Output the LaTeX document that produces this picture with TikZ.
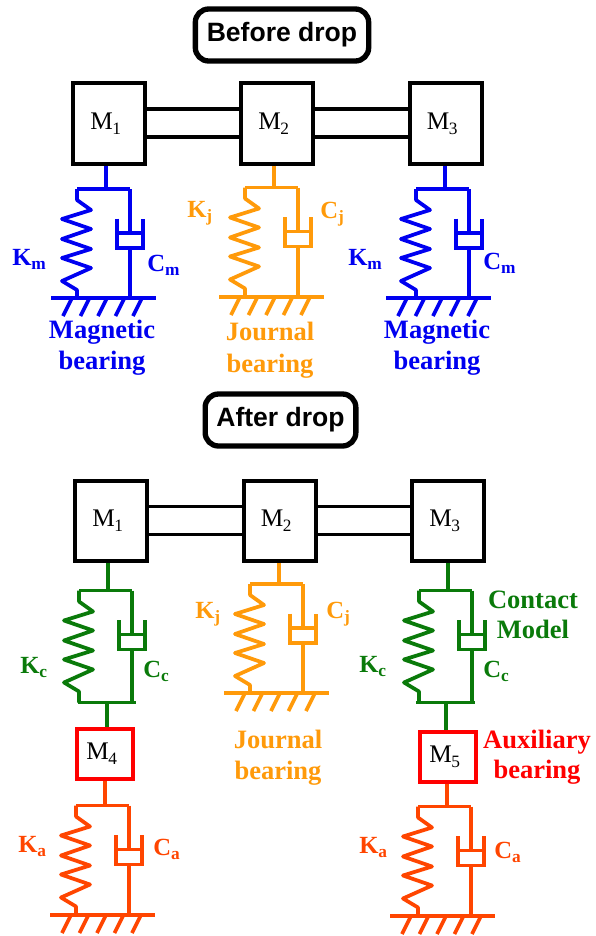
\documentclass[tikz,border=0pt]{standalone}
\usepackage{fontspec}
\setmainfont{Liberation Serif}
\newfontfamily\headfont{Liberation Sans}
\definecolor{cblue}{HTML}{0000F0}
\definecolor{corange}{HTML}{FF9A0A}
\definecolor{cgreen}{HTML}{0A7A0A}
\definecolor{cdeep}{HTML}{FF4500}
\definecolor{cred}{HTML}{FF0000}
\newcommand{\lowtxt}[1]{\raisebox{-.2em}{\fontsize{13}{14}\selectfont #1}}
\newcommand{\massname}[1]{M\kern-.5pt\lowtxt{#1}\hspace*{5pt}}
\newcommand{\lowbold}[1]{\raisebox{-.2em}{\fontsize{13}{13}\selectfont\bfseries #1}}
% name, colour, x, y, end of frame below the bar
\newcommand{\frameunit}[5]{%
  \begin{scope}[shift={(#3,#4)},#2,unitline]
    \coordinate (#1 top) at (0,0);
    \draw (-29,0) -- (24,0);
    \draw[line join=round] (-29,0) -- (-29,11) -- (-15,21) -- (-44,30) -- (-15,40) -- (-44,50) -- (-15,60) -- (-44,69) -- (-15,79) -- (-44,92) -- (-29,101) -- (-29,#5);
    \draw (24,0) -- (24,44);
    \draw (11,29.5) -- (11,59) -- (37,59) -- (37,29.5);
    \draw (11,44) -- (37,44);
    \draw (24,59) -- (24,#5);
    \coordinate (#1 end) at (0,#5);
  \end{scope}}
\newcommand{\groundunit}[4]{%
  \begin{scope}[shift={(#3,#4)},#2,unitline]
    \coordinate (#1 ground) at (0,0);
    \draw (-55,0) -- (50,0);
    \foreach \hx in {-34,-16.5,1,18.5,36}
      \draw (\hx,0) -- (\hx-9,18);
  \end{scope}}
\tikzset{
  unitline/.style={line width=2.8pt,line cap=butt},
  massbox/.style={draw=black,line width=3pt,inner sep=0pt,font=\fontsize{19}{19}\selectfont,text=black},
  linkline/.style={draw=black,line width=2.5pt},
  headbox/.style={draw=black,line width=4pt,rounded corners=10pt,inner sep=0pt,font=\headfont\bfseries\fontsize{19.9}{20}\selectfont,minimum width=130pt,minimum height=39pt},
  springlabel/.style={anchor=base west,inner sep=0pt,font=\bfseries\fontsize{18.5}{19}\selectfont},
  bearinglabel/.style={anchor=base,inner sep=0pt,font=\bfseries\fontsize{19.9}{20}\selectfont},
}
\begin{document}
\begin{tikzpicture}[x=0.75pt,y=-0.75pt]
\useasboundingbox (0,0) rectangle (596,936);
% titles
\node[headbox] (before) at (282,35) {\raisebox{-.7pt}{Before drop}};
\node[headbox,minimum width=113pt] (after) at (280.5,420) {\raisebox{-.7pt}{After drop}};
% upper masses
\node[massbox,minimum width=54pt,minimum height=60.5pt] (ma) at (109,123.5) {\massname{1}};
\node[massbox,minimum width=54pt,minimum height=60.5pt] (mb) at (277,123.5) {\massname{2}};
\node[massbox,minimum width=54pt,minimum height=60.5pt] (mc) at (445.5,123.5) {\massname{3}};
\draw[linkline] ([yshift=11pt]ma.east) -- ([yshift=11pt]mb.west);
\draw[linkline] ([yshift=-10pt]ma.east) -- ([yshift=-10pt]mb.west);
\draw[linkline] ([yshift=11pt]mb.east) -- ([yshift=11pt]mc.west);
\draw[linkline] ([yshift=-10pt]mb.east) -- ([yshift=-10pt]mc.west);
% upper units
\frameunit{ua}{cblue}{106}{189}{109}
\groundunit{ua}{cblue}{106}{298}
\frameunit{ub}{corange}{274}{187.5}{109}
\groundunit{ub}{corange}{274}{297}
\frameunit{uc}{cblue}{445}{189}{109}
\groundunit{uc}{cblue}{441}{298}
\draw[cblue,unitline] (ua top |- ma.south) -- (ua top);
\draw[corange,unitline] (ub top |- mb.south) -- (ub top);
\draw[cblue,unitline] (uc top |- mc.south) -- (uc top);
% upper labels
\node[springlabel,cblue] (t1) at (12,265) {K\lowbold{m}};
\node[springlabel,cblue] (t2) at (147,271) {C\lowbold{m}};
\node[springlabel,corange] (t3) at (187,217) {K\lowbold{j}};
\node[springlabel,corange] (t4) at (320,218) {C\lowbold{j}};
\node[springlabel,cblue] (t5) at (348,265) {K\lowbold{m}};
\node[springlabel,cblue] (t6) at (483,269) {C\lowbold{m}};
\node[bearinglabel,cblue] (t7) at (102,338) {Magnetic};
\node[bearinglabel,cblue] (t8) at (102,369) {bearing};
\node[bearinglabel,corange] (t9) at (270,340) {Journal};
\node[bearinglabel,corange] (t10) at (270,372) {bearing};
\node[bearinglabel,cblue] (t11) at (437,338) {Magnetic};
\node[bearinglabel,cblue] (t12) at (437,369) {bearing};
% lower masses
\node[massbox,minimum width=54pt,minimum height=60.5pt] (md) at (111,521) {\massname{1}};
\node[massbox,minimum width=54pt,minimum height=60.5pt] (me) at (279.5,521) {\massname{2}};
\node[massbox,minimum width=54pt,minimum height=60.5pt] (mf) at (448,521) {\massname{3}};
\draw[linkline] ([yshift=11pt]md.east) -- ([yshift=11pt]me.west);
\draw[linkline] ([yshift=-10pt]md.east) -- ([yshift=-10pt]me.west);
\draw[linkline] ([yshift=11pt]me.east) -- ([yshift=11pt]mf.west);
\draw[linkline] ([yshift=-10pt]me.east) -- ([yshift=-10pt]mf.west);
\node[massbox,draw=cred,minimum width=42pt,minimum height=38pt] (mg) at (105,754) {\massname{4}};
\node[massbox,draw=cred,minimum width=42pt,minimum height=38pt] (mh) at (448,757) {\massname{5}};
% lower units
\frameunit{la}{cgreen}{108}{590.5}{112}
\frameunit{lb}{corange}{279}{584}{109}
\groundunit{lb}{corange}{279}{693}
\frameunit{lc}{cgreen}{448}{590.5}{112}
\frameunit{ld}{cdeep}{105}{805.5}{109.5}
\groundunit{ld}{cdeep}{105}{915}
\frameunit{le}{cdeep}{447}{806.5}{109.5}
\groundunit{le}{cdeep}{445}{916}
\draw[cgreen,unitline] (la top |- md.south) -- (la top);
\draw[corange,unitline] (lb top |- me.south) -- (lb top);
\draw[cgreen,unitline] (lc top |- mf.south) -- (lc top);
\draw[cgreen,unitline] ([xshift=-22.5pt]la end) -- ([xshift=21pt]la end);
\draw[cgreen,unitline] ([xshift=-24pt]lc end) -- ([xshift=20.5pt]lc end);
\draw[cgreen,unitline] ([xshift=-1pt]la end) -- ([xshift=-1pt]la end |- mg.north);
\draw[cgreen,unitline] ([xshift=-1.5pt]lc end) -- ([xshift=-1.5pt]lc end |- mh.north);
\draw[cdeep,unitline] (ld top |- mg.south) -- (ld top);
\draw[cdeep,unitline] (le top |- mh.south) -- (le top);
% lower labels
\node[springlabel,cgreen] (s1) at (20,673) {K\lowbold{c}};
\node[springlabel,cgreen] (s2) at (143,677) {C\lowbold{c}};
\node[springlabel,corange] (s3) at (195,618) {K\lowbold{j}};
\node[springlabel,corange] (s4) at (326,618) {C\lowbold{j}};
\node[springlabel,cgreen] (s5) at (359,672) {K\lowbold{c}};
\node[springlabel,cgreen] (s6) at (483,677) {C\lowbold{c}};
\node[springlabel,cdeep] (s7) at (18,852) {K\lowbold{a}};
\node[springlabel,cdeep] (s8) at (153,855) {C\lowbold{a}};
\node[springlabel,cdeep] (s9) at (359,853) {K\lowbold{a}};
\node[springlabel,cdeep] (s10) at (494,858) {C\lowbold{a}};
\node[bearinglabel,corange] (s11) at (278,748) {Journal};
\node[bearinglabel,corange] (s12) at (278,779) {bearing};
\node[bearinglabel,cgreen] (s13) at (533,608) {Contact};
\node[bearinglabel,cgreen] (s14) at (533,638) {Model};
\node[bearinglabel,cred] (s15) at (537,748) {Auxiliary};
\node[bearinglabel,cred] (s16) at (537,778) {bearing};
\end{tikzpicture}
\end{document}
